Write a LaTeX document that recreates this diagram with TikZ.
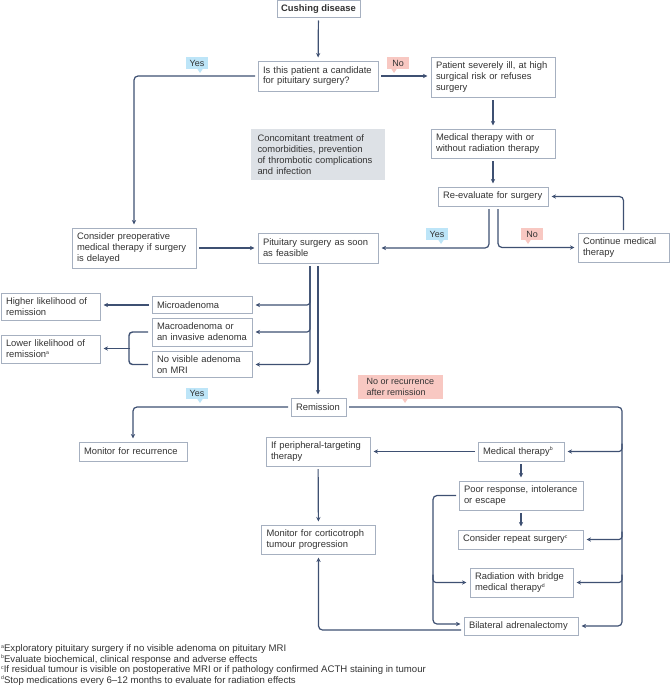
\documentclass[tikz,border=0pt]{standalone}
\usepackage{fontspec}
\setmainfont{Liberation Sans}
\usetikzlibrary{arrows.meta,calc}
\definecolor{lnc}{HTML}{3E5072}
\definecolor{bxc}{HTML}{A6B0C0}
\definecolor{txc}{HTML}{333333}
\definecolor{grayf}{HTML}{DDE1E6}
\definecolor{yesf}{HTML}{BDE5F8}
\definecolor{nof}{HTML}{F8C8C2}
\newcommand{\fnmk}[1]{\raisebox{3.2pt}{\fontsize{5.2}{5.2}\selectfont #1}}
\tikzset{
  bx/.style 2 args={draw=bxc, line width=0.9pt, fill=white, inner xsep=5pt, inner ysep=0pt,
    outer sep=0pt, text width=#1, minimum height=#2, align=left},
  tag/.style={fill=#1, inner xsep=2pt, inner ysep=0.5pt, outer sep=0pt, align=left,
    font=\fontsize{9}{10.4}\selectfont},
  ln/.style={draw=lnc, line width=1.2pt},
  arr/.style={ln, -{Stealth[length=4.5pt,width=4.2pt]}, shorten <=3pt, shorten >=3.5pt},
  brr/.style={ln, -{Stealth[length=4.5pt,width=4.2pt]}, shorten >=3.5pt},
}
\begin{document}
\begin{tikzpicture}[x=1pt,y=-1pt, every node/.style={text=txc, font=\fontsize{9.4}{10.8}\selectfont}]
\useasboundingbox (0,0) rectangle (670,685);

% boxes
\node[draw=bxc, line width=0.9pt, fill=white, inner sep=0pt, outer sep=0pt, minimum width=83pt, minimum height=17pt, font=\fontsize{9.4}{10.8}\selectfont\bfseries] (cush) at (318.5,9) {Cushing disease};
\node[bx={110pt}{30pt}] (cand) at (318,76) {Is this patient a candidate\\for pituitary surgery?};
\node[bx={114pt}{40pt}] (ill) at (493,77) {Patient severely ill, at high\\surgical risk or refuses\\surgery};
\node[bx={114pt}{29pt}] (medrad) at (493,143.5) {Medical therapy with or\\without radiation therapy};
\node[bx={100pt}{19pt}] (reeval) at (493,196.5) {Re-evaluate for surgery};
\node[fill=grayf, inner xsep=6.5pt, inner ysep=0pt, text width=121pt, minimum height=51pt, align=left] (conc) at (318,154.5) {Concomitant treatment of\\comorbidities, prevention\\of thrombotic complications\\and infection};
\node[bx={114pt}{40pt}] (preop) at (134,248) {Consider preoperative\\medical therapy if surgery\\is delayed};
\node[bx={110pt}{30pt}] (pit) at (318,248) {Pituitary surgery as soon\\as feasible};
\node[bx={81pt}{29pt}] (cont) at (623.5,247.5) {Continue medical\\therapy};
\node[bx={90pt}{17pt}] (micro) at (202,305) {Microadenoma};
\node[bx={90pt}{28pt}] (macro) at (202,332) {Macroadenoma or\\an invasive adenoma};
\node[bx={90pt}{26pt}] (novis) at (202,364.5) {No visible adenoma\\on MRI};
\node[bx={89pt}{27pt}] (higher) at (50.5,306.5) {Higher likelihood of\\remission};
\node[bx={89pt}{28pt}] (lower) at (50.5,349) {Lower likelihood of\\remission\fnmk{a}};
\node[bx={45pt}{18pt}] (remis) at (318.5,407) {Remission};
\node[bx={98pt}{19pt}] (monrec) at (133,451.5) {Monitor for recurrence};
\node[bx={94pt}{29pt}] (periph) at (318,451.5) {If peripheral-targeting\\therapy};
\node[bx={76pt}{19pt}] (medth) at (521,451.5) {Medical therapy\fnmk{b}};
\node[bx={114pt}{29pt}] (poor) at (521,495.5) {Poor response, intolerance\\or escape};
\node[bx={115pt}{19pt}] (repeat) at (520.5,539.5) {Consider repeat surgery\fnmk{c}};
\node[bx={93pt}{29pt}] (rad) at (521.5,582.5) {Radiation with bridge\\medical therapy\fnmk{d}};
\node[bx={104pt}{18pt}] (bilat) at (521,626) {Bilateral adrenalectomy};
\node[bx={104pt}{29pt}] (moncort) at (318.5,539.5) {Monitor for corticotroph\\tumour progression};

% tags
\node[tag=yesf, minimum width=22pt, minimum height=12pt] (yes1) at (197,63) {Yes};
\fill[yesf] (197,68.5) -- (203,68.5) -- (200,73) -- cycle;
\node[tag=nof, minimum width=22pt, minimum height=12pt] (no1) at (398,63) {No};
\fill[nof] (391,68.5) -- (397,68.5) -- (394,73) -- cycle;
\node[tag=yesf, minimum width=22pt, minimum height=12pt] (yes2) at (437,234) {Yes};
\fill[yesf] (438,239.5) -- (444,239.5) -- (441,244) -- cycle;
\node[tag=nof, minimum width=22pt, minimum height=12pt] (no2) at (532,234) {No};
\fill[nof] (525,239.5) -- (531,239.5) -- (528,244) -- cycle;
\node[tag=yesf, minimum width=22pt, minimum height=11pt] (yes3) at (197,393.5) {Yes};
\fill[yesf] (197,398.5) -- (203,398.5) -- (200,403) -- cycle;
\node[tag=nof, inner xsep=5pt, minimum width=85pt, minimum height=24pt] (norec) at (400.5,387) {No or recurrence\\after remission};
\fill[nof] (402,398.5) -- (408,398.5) -- (405,403) -- cycle;

% connectors
\draw[arr] (cush) -- (cand);
\draw[arr, rounded corners=4pt] (cand.west) -| (preop.north);
\draw[arr] (cand.east) -- (cand.east -| ill.west);
\draw[arr] (ill) -- (medrad);
\draw[arr] (medrad) -- (reeval);
\draw[arr, rounded corners=4pt] ([xshift=-4pt]reeval.south) |- (pit.east);
\draw[arr, rounded corners=4pt] ([xshift=5pt]reeval.south) |- (cont.west);
\draw[arr, rounded corners=4pt] (cont.north) |- (reeval.east);
\draw[arr] (preop.east) -- (pit.west);
\draw[arr, rounded corners=3pt] ([xshift=-8pt]pit.south) |- (micro.east);
\draw[arr, rounded corners=3pt] ([xshift=-8pt]pit.south) |- (macro.east);
\draw[arr, rounded corners=3pt] ([xshift=-8pt]pit.south) |- (novis.east);
\draw[arr] (pit.south) -- (pit.south |- remis.north);
\draw[arr] (micro.west) -- (micro.west -| higher.east);
\coordinate (br) at (129,348.5);
\draw[ln, line width=1.4pt, rounded corners=3.5pt] ([xshift=-4pt]macro.west) -| (br) |- ([xshift=-4pt]novis.west);
\draw[arr, line width=1.4pt, shorten <=0pt] ([xshift=1pt]br) -- (br -| lower.east);
\draw[arr, rounded corners=4pt] (remis.west) -| (monrec.north);
\coordinate (R) at (622,626);
\draw[arr, rounded corners=4pt] (remis.east) -| (R) -- (bilat.east);
\draw[brr, rounded corners=3pt] ($(R|-medth.east)+(0,-8)$) |- (medth.east);
\draw[brr, rounded corners=3pt] ($(R|-repeat.east)+(0,-8)$) |- (repeat.east);
\draw[brr, rounded corners=3pt] ($(R|-rad.east)+(0,-8)$) |- (rad.east);
\draw[arr] (medth.west) -- (medth.west -| periph.east);
\draw[arr] (medth) -- (poor);
\draw[arr] (poor.south) -- (poor.south |- repeat.north);
\coordinate (L) at (433,624);
\draw[arr, rounded corners=4pt] (poor.west) -| (L) -- (L -| bilat.west);
\draw[brr, rounded corners=3pt] ($(L|-rad.west)+(0,-8)$) |- (rad.west);
\draw[arr, rounded corners=4pt] ([yshift=-4pt]bilat.west) -| (moncort.south);
\draw[arr] (periph) -- (moncort);

% footnotes
\node[anchor=north west, inner sep=0pt, align=left, font=\fontsize{9.6}{10.5}\selectfont] (fn) at (1,644.5) {\fnmk{a}Exploratory pituitary surgery if no visible adenoma on pituitary MRI\\
\fnmk{b}Evaluate biochemical, clinical response and adverse effects\\
\fnmk{c}If residual tumour is visible on postoperative MRI or if pathology confirmed ACTH staining in tumour\\
\fnmk{d}Stop medications every 6--12 months to evaluate for radiation effects};
\end{tikzpicture}
\end{document}
